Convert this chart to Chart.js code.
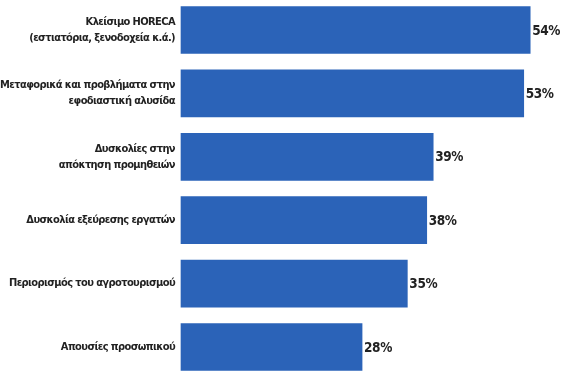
<!DOCTYPE html>
<html><head><meta charset="utf-8">
<script src="https://cdn.jsdelivr.net/npm/chart.js@4"></script>
<style>html,body{margin:0;padding:0;background:#fff}#wrap{width:577px;height:377px;position:relative}</style>
</head><body><div id="wrap"><canvas id="c"></canvas></div>
<script>
const categories = [
  ["Κλείσιμο HORECA", "(εστιατόρια, ξενοδοχεία κ.ά.)"],
  ["Μεταφορικά και προβλήματα στην", "εφοδιαστική αλυσίδα"],
  ["Δυσκολίες στην", "απόκτηση προμηθειών"],
  "Δυσκολία εξεύρεσης εργατών",
  "Περιορισμός του αγροτουρισμού",
  "Απουσίες προσωπικού"
];
const values = [54, 53, 39, 38, 35, 28];
const valueLabels = ["54%", "53%", "39%", "38%", "35%", "28%"];

const FONT = "'DejaVu Sans Condensed', 'DejaVu Sans', sans-serif";

const spacingPlugin = {
  id: 'spacing',
  beforeDraw(chart) {
    chart.ctx.letterSpacing = '-0.6px';
  }
};

const valuePlugin = {
  id: 'valueLabels',
  afterDatasetsDraw(chart) {
    const ctx = chart.ctx;
    const meta = chart.getDatasetMeta(0);
    ctx.save();
    ctx.letterSpacing = '-0.4px';
    ctx.font = "bold 13.5px " + FONT;
    ctx.fillStyle = "#222";
    ctx.textAlign = "left";
    ctx.textBaseline = "middle";
    meta.data.forEach((el, i) => {
      ctx.fillText(valueLabels[i], el.x + 2, el.y + 1);
    });
    ctx.restore();
  }
};

new Chart(document.getElementById('c'), {
  type: 'bar',
  data: {
    labels: categories,
    datasets: [{
      data: values,
      backgroundColor: '#2b63b8',
      borderWidth: 0,
      barThickness: 47,
      clip: false
    }]
  },
  options: {
    indexAxis: 'y',
    responsive: true,
    maintainAspectRatio: false,
    animation: false,
    layout: { padding: { top: 30, bottom: 30, left: 0, right: 8 } },
    plugins: { legend: { display: false }, tooltip: { enabled: false } },
    scales: {
      x: { display: false, min: 0, max: 60 },
      y: {
        offset: false,
        grid: { display: false, drawTicks: false },
        border: { display: false },
        ticks: {
          color: '#222',
          padding: 6,
          font: { family: FONT, size: 11, weight: 'bold', lineHeight: 1.45 }
        },
        afterFit(s) { s.width = 181; }
      }
    }
  },
  plugins: [spacingPlugin, valuePlugin]
});
</script></body></html>
